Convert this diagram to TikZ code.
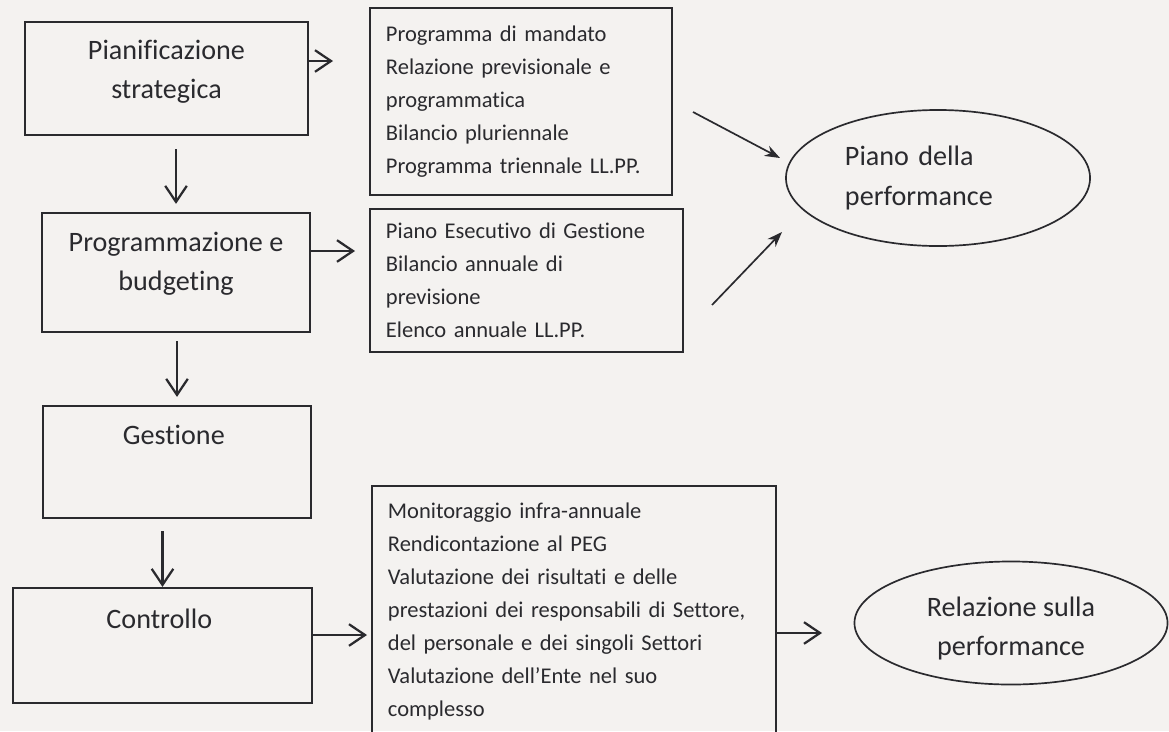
\documentclass[tikz,border=0pt]{standalone}
\usepackage{fontspec}
\setmainfont{Carlito}[Ligatures={NoCommon}]
\usepackage{tikz}
\usetikzlibrary{shapes,arrows.meta}
\definecolor{paper}{RGB}{244,242,240}
\definecolor{ink}{RGB}{42,42,46}
\hyphenpenalty=10000
\exhyphenpenalty=10000
\newcommand{\titlefont}{\fontsize{20}{28}\selectfont}
\newcommand{\listfont}{\fontsize{16}{23.4}\selectfont}
\tikzset{
  stage/.style={draw=ink,line width=1.6pt,text=ink,align=center,font=\titlefont},
  docs/.style={draw=ink,line width=1.5pt,text=ink,align=left,font=\listfont,inner xsep=0.4cm},
  goal/.style={draw=ink,ellipse,line width=1.2pt,text=ink,inner sep=0pt,font=\titlefont},
  flow/.style={draw=ink,line width=1.6pt,-{Straight Barb[length=4mm,width=5.4mm]}},
  feed/.style={draw=ink,line width=1.2pt,-{Stealth[length=3.8mm,width=2.8mm]}}
}

\begin{document}
\begin{tikzpicture}[x=0.025cm,y=-0.025cm]
    %% page
    \fill[paper] (0,0) rectangle (1169,731);
    \useasboundingbox (0,0) rectangle (1169,731);

    %% left column
    \node (pian) at (166.5,78.5) [stage,minimum width=7.075cm,minimum height=2.825cm,text depth=0.45cm]{
      Pianificazione\\strategica
    };
    \node (prog) at (176,272.5) [stage,minimum width=6.7cm,minimum height=2.975cm,text depth=0.55cm]{
      Programmazione e\\budgeting
    };
    \node (gest) at (177,462) [stage,minimum width=6.7cm,minimum height=2.8cm,text depth=1.35cm]{
      Gestione
    };
    \node (ctrl) at (162.5,645.5) [stage,minimum width=7.475cm,minimum height=2.875cm,text depth=1.35cm]{
      Controllo
    };

    %% documents
    \node (box1) at (521,101.5) [docs,text width=6.75cm,minimum height=4.675cm]{
      Programma di mandato\\
      Relazione previsionale e\\
      programmatica\\
      Bilancio pluriennale\\
      Programma triennale LL.PP.
    };
    \node (box2) at (526.5,280.5) [docs,text width=7.025cm,minimum height=3.575cm]{
      Piano Esecutivo di Gestione\\
      Bilancio annuale di\\
      previsione\\
      Elenco annuale LL.PP.
    };
    \node (box3) at (574,611.5) [docs,text width=9.3cm,minimum height=6.275cm]{
      Monitoraggio infra-annuale\\
      Rendicontazione al PEG\\
      Valutazione dei risultati e delle\\
      prestazioni dei responsabili di Settore,\\
      del personale e dei singoli Settori\\
      Valutazione dell’Ente nel suo\\
      complesso
    };

    %% results
    \node (ell1) at (938,178) [goal,minimum width=7.6cm,minimum height=3.4cm,text width=4.65cm,align=left]{
      Piano della\\performance
    };
    \node (ell2) at (1011,623) [goal,minimum width=7.825cm,minimum height=3.075cm,align=center,text height=1.75cm]{
      Relazione sulla\\performance
    };

    %% arrows
    \coordinate (pian-out) at (333,61);
    \coordinate (prog-out) at (355,251);
    \coordinate (ctrl-out) at (367,635);
    \coordinate (box3-out) at (822,633);
    \coordinate (box1-out) at (693,112);
    \coordinate (box2-out) at (712,305);
    \coordinate (ell1-in1) at (780,158);
    \coordinate (ell1-in2) at (782,232);

    \draw[flow] (pian.east |- pian-out) -- (pian-out);
    \draw[flow] (prog.east |- prog-out) -- (prog-out);
    \draw[flow] (ctrl.east |- ctrl-out) -- (ctrl-out);
    \draw[flow] (box3.east |- box3-out) -- (box3-out);
    \draw[flow,shorten <=0.33cm,shorten >=0.2cm] (pian.south -| prog.north) -- (prog.north);
    \draw[flow,shorten <=0.2cm,shorten >=0.2cm] (prog.south -| gest.north) -- (gest.north);
    \draw[flow,shorten <=0.3cm] (gest.south -| ctrl.north) -- (ctrl.north);
    \draw[feed] (box1-out) -- (ell1-in1);
    \draw[feed] (box2-out) -- (ell1-in2);
\end{tikzpicture}
\end{document}
